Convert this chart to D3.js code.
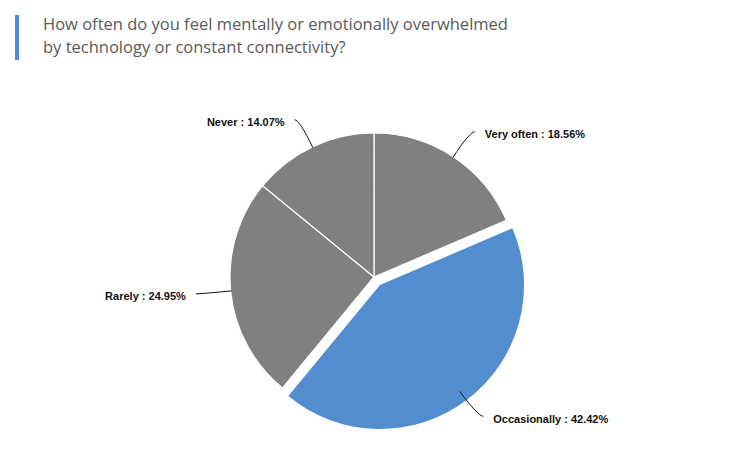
<!DOCTYPE html>
<html>
<head>
<meta charset="utf-8">
<script src="https://cdn.jsdelivr.net/npm/d3@7"></script>
<style>
  body { margin: 0; background: #fff; }
  .title { font-family: "Open Sans", "Noto Sans", sans-serif; font-size: 16.5px; fill: #5a5a5a; }
  .label { font-family: "Liberation Sans", Arial, sans-serif; font-size: 11px; font-weight: bold; fill: #111; }
</style>
</head>
<body>
<div id="chart"></div>
<script>
var svgWidth = 749;
var svgHeight = 468;

// chart data
var categories = ["Very often", "Occasionally", "Rarely", "Never"];
var percents = [18.56, 42.42, 24.95, 14.07];
var highlighted = "Occasionally";

var titleLines = [
  "How often do you feel mentally or emotionally overwhelmed",
  "by technology or constant connectivity?"
];

var cx = 374, cy = 277, radius = 144;

var svg = d3.select("#chart")
  .append("svg")
  .attr("width", svgWidth)
  .attr("height", svgHeight);

// title + accent bar
svg.append("rect")
  .attr("x", 15)
  .attr("y", 15)
  .attr("width", 4)
  .attr("height", 45)
  .attr("fill", "#4f8be0");

svg.selectAll(".title")
  .data(titleLines)
  .enter()
  .append("text")
  .attr("class", "title")
  .attr("x", 43)
  .attr("y", (d, i) => 30 + i * 23)
  .text(d => d);

var data = categories.map((c, i) => ({ name: c, value: percents[i] }));

var pie = d3.pie()
  .sort(null)
  .value(d => d.value);

var arc = d3.arc()
  .innerRadius(0)
  .outerRadius(radius);

var arcs = pie(data);

var chartGroup = svg.append("g")
  .attr("transform", `translate(${cx}, ${cy})`);

// slices
chartGroup.selectAll("path.slice")
  .data(arcs)
  .enter()
  .append("path")
  .attr("class", "slice")
  .attr("d", arc)
  .attr("fill", d => d.data.name === highlighted ? "#528dcf" : "#808080")
  .attr("stroke", "#fff")
  .attr("stroke-width", d => d.data.name === highlighted ? 0 : 1.2)
  .attr("transform", function(d) {
    if (d.data.name !== highlighted) return null;
    var a = (d.startAngle + d.endAngle) / 2;
    return `translate(${10 * Math.sin(a)}, ${-10 * Math.cos(a)})`;
  });

// leader lines and labels
function point(a, r) {
  return [r * Math.sin(a), -r * Math.cos(a)];
}

arcs.forEach(function(d) {
  var a = (d.startAngle + d.endAngle) / 2;
  var right = Math.sin(a) >= 0;
  var p0 = point(a, radius - 1);
  var p1 = point(a, radius + 30);
  var p2 = [p1[0] + (right ? 5 : -5), p1[1]];

  var path = d3.path();
  path.moveTo(p0[0], p0[1]);
  path.quadraticCurveTo(p1[0], p1[1], p2[0], p2[1]);

  chartGroup.append("path")
    .attr("d", path.toString())
    .attr("fill", "none")
    .attr("stroke", "#111")
    .attr("stroke-width", 1);

  chartGroup.append("text")
    .attr("class", "label")
    .attr("x", p2[0] + (right ? 10 : -10))
    .attr("y", p2[1] + 2.5)
    .attr("dy", "0.35em")
    .attr("text-anchor", right ? "start" : "end")
    .text(`${d.data.name} : ${d.data.value.toFixed(2)}%`);
});
</script>
</body>
</html>
